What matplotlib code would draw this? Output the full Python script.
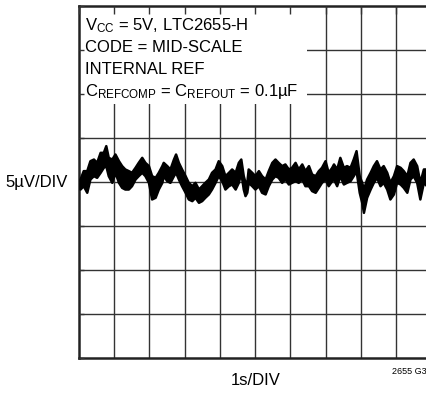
import numpy as np
import matplotlib
matplotlib.use("Agg")
import matplotlib.pyplot as plt
from matplotlib.patches import Rectangle

plt.rcParams["font.family"] = ["Liberation Sans Narrow", "Liberation Sans", "DejaVu Sans"]
plt.rcParams["mathtext.fontset"] = "custom"
plt.rcParams["mathtext.rm"] = "Liberation Sans"
plt.rcParams["mathtext.it"] = "Liberation Sans"

# output noise trace, envelope of the scope band (time in s, voltage in uV)
t_s = [0.03, 0.12, 0.22, 0.31, 0.41, 0.50, 0.60, 0.69, 0.76, 0.83,
       0.93, 1.02, 1.12, 1.21, 1.30, 1.40, 1.49, 1.59, 1.68, 1.78,
       1.87, 1.97, 2.06, 2.16, 2.25, 2.35, 2.39, 2.49, 2.58, 2.68,
       2.74, 2.82, 2.91, 3.01, 3.10, 3.20, 3.29, 3.39, 3.48, 3.57,
       3.67, 3.76, 3.86, 3.95, 4.05, 4.14, 4.24, 4.33, 4.43, 4.52,
       4.59, 4.66, 4.71, 4.76, 4.80, 4.90, 4.99, 5.09, 5.18, 5.28,
       5.37, 5.47, 5.56, 5.65, 5.75, 5.84, 5.94, 6.03, 6.13, 6.22,
       6.32, 6.41, 6.51, 6.60, 6.70, 6.79, 6.88, 6.98, 7.07, 7.17,
       7.22, 7.31, 7.40, 7.50, 7.59, 7.69, 7.78, 7.86, 7.95, 8.02,
       8.07, 8.16, 8.26, 8.35, 8.44, 8.54, 8.63, 8.73, 8.82, 8.92,
       9.01, 9.11, 9.20, 9.30, 9.39, 9.48, 9.58, 9.67, 9.77, 9.86]
v_hi = [0.34, 1.29, 1.29, 2.42, 2.61, 2.23, 3.37, 3.37, 4.13, 2.80,
        2.61, 3.18, 2.42, 1.86, 1.48, 1.29, 1.10, 1.67, 2.23, 2.80,
        2.23, 1.86, 0.72, 0.53, 1.10, 1.86, 2.23, 1.86, 1.48, 2.61,
        3.18, 2.23, 1.48, 0.72, -0.04, -0.42, -0.04, -0.80, -0.42, -0.04,
        0.34, 1.10, 1.48, 2.42, 1.86, 0.72, 1.10, 1.48, 1.10, 2.23,
        2.61, 0.72, -0.04, -0.04, 1.48, 1.10, 0.72, 1.29, 0.72, 0.34,
        1.29, 2.23, 2.61, 2.23, 1.86, 2.05, 1.48, 1.67, 2.23, 1.48,
        2.05, 1.29, 1.86, 0.91, 0.72, 1.29, 1.67, 2.42, 1.10, 1.67,
        2.05, 1.48, 2.80, 1.67, 1.86, 1.67, 2.61, 3.56, 0.72, -0.04,
        -0.80, 0.34, 1.10, 1.86, 2.42, 1.48, 1.86, 1.10, -0.04, 0.72,
        1.86, 1.67, 1.29, 0.72, 2.23, 2.61, 1.86, -0.04, 1.48, 1.48]
v_lo = [-0.80, -0.42, -1.17, 0.34, 0.72, 0.53, 1.10, 1.67, 1.86, 0.72,
        -0.04, 1.10, -0.04, -0.61, -0.80, -0.80, -0.42, 0.34, 0.72, 1.10,
        0.72, -0.04, -1.93, -1.74, -0.80, -0.04, 0.72, 0.15, -0.04, 0.72,
        1.10, 0.34, -0.42, -1.17, -1.93, -2.12, -1.74, -2.31, -2.12, -1.74,
        -1.36, -0.80, -0.04, 0.72, 0.15, -0.80, -0.42, -0.23, -0.80, -0.04,
        1.10, -0.80, -1.55, -1.17, -0.04, -0.42, -0.80, -0.42, -1.17, -1.36,
        -0.42, 0.34, 0.72, 0.53, -0.04, 0.34, -0.23, -0.04, 0.15, -0.04,
        0.34, -0.42, -0.42, -0.98, -1.17, -0.61, -0.04, 0.34, -0.42, 0.15,
        0.34, -0.42, 0.72, -0.23, -0.04, 0.15, 0.72, 1.29, -1.17, -2.31,
        -3.45, -1.74, -0.80, -0.04, 0.53, -0.42, -0.04, -0.80, -1.93, -1.36,
        -0.04, -0.23, -0.61, -1.17, 0.34, 0.72, -0.04, -1.93, -0.04, -0.42]

conditions = [
    "V$_{\\mathrm{CC}}$ = 5V, LTC2655-H",
    "CODE = MID-SCALE",
    "INTERNAL REF",
    "C$_{\\mathrm{REFCOMP}}$ = C$_{\\mathrm{REFOUT}}$ = 0.1µF",
]

X_DIVS = 10   # 1 s/div
Y_DIVS = 8    # 5 uV/div
UV_PER_DIV = 5

fig = plt.figure(figsize=(4.27, 4.02), dpi=100)
# scope graticule runs slightly past the right edge of the page
ax = fig.add_axes([0.185, 0.107, 0.8255, 0.8756])
ax.set_xlim(0, X_DIVS)
ax.set_ylim(-Y_DIVS / 2 * UV_PER_DIV, Y_DIVS / 2 * UV_PER_DIV)

grid_kw = dict(color="#333333", linewidth=1.0, zorder=1)
ax.vlines(np.arange(1, X_DIVS), *ax.get_ylim(), **grid_kw)
ax.hlines(np.arange(-Y_DIVS / 2 + 1, Y_DIVS / 2) * UV_PER_DIV, *ax.get_xlim(), **grid_kw)

ax.set_xticks(np.arange(0, X_DIVS + 1))
ax.set_yticks(np.arange(-Y_DIVS / 2, Y_DIVS / 2 + 1) * UV_PER_DIV)
ax.tick_params(axis="x", direction="in", length=6, width=1.0, color="#333333",
               top=True, bottom=False, labelbottom=False)
ax.tick_params(axis="y", direction="in", length=3.5, width=1.0, color="#333333",
               left=True, labelleft=False)
ax.set_axisbelow(False)
for s in ax.spines.values():
    s.set_linewidth(1.8)
    s.set_color("#222222")

ax.fill_between(t_s, v_lo, v_hi, color="black", linewidth=1.8,
                edgecolor="black", zorder=3)

# condition box blanks the graticule under it; ticks stay on top
ax.add_patch(Rectangle((0, 0.722), 0.647, 0.278, transform=ax.transAxes,
                       facecolor="white", edgecolor="none", zorder=2))
for i, line in enumerate(conditions):
    ax.text(0.017, 0.9345 - i * 0.0625, line, transform=ax.transAxes,
            ha="left", va="baseline", fontsize=12, zorder=2.1)

ax.text(-0.031, 0.5, "5µV/DIV", transform=ax.transAxes, ha="right", va="center",
        fontsize=12)
ax.text(0.5, -0.0625, "1s/DIV", transform=ax.transAxes, ha="center", va="center",
        fontsize=12)
fig.text(0.998, 0.077, "2655 G3", ha="right", va="center", fontsize=6.5)

fig.savefig("out.png", dpi=100)
